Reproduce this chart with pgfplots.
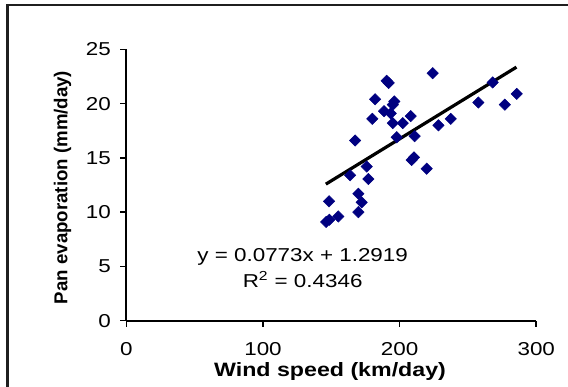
\documentclass[border=0pt]{standalone}
\usepackage{pgfplots}
\pgfplotsset{compat=1.18}
\usepackage{fontspec}
\setmainfont{Liberation Sans}
\definecolor{navy}{RGB}{0,0,128}
\pgfplotstableread{
x y
224.2 22.8
190.5 22.1
192.0 21.9
182.0 20.4
196.1 20.2
195.0 19.9
188.6 19.3
193.5 19.1
180.0 18.6
195.0 18.2
202.3 18.2
208.1 18.85
197.9 16.9
211.0 17.0
167.4 16.6
228.4 18.0
237.4 18.6
257.6 20.1
268.1 21.95
277.0 19.9
285.7 20.9
208.8 14.8
210.5 15.05
219.8 14.0
175.9 14.2
163.7 13.4
177.1 13.05
169.8 11.7
172.2 10.9
169.8 10.0
148.3 11.0
155.1 9.6
146.2 9.1
148.6 9.3
}\datatable
\begin{document}
\begin{tikzpicture}[x=1pt,y=1pt]
\useasboundingbox (0,0) rectangle (426,289.5);
\draw[line width=2.2pt, black!88] (5.5,-20) -- (5.5,285.75) -- (440,285.75);
\begin{axis}[
  at={(94.8pt,49pt)}, anchor=south west,
  scale only axis, width=307.4pt, height=203.5pt,
  xmin=0, xmax=300, ymin=0, ymax=25,
  axis x line*=bottom, axis y line*=left,
  axis line style={-, line width=1.4pt, black},
  xtick={0,100,200,300}, ytick={0,5,10,15,20,25},
  tick align=outside, major tick length=4.5pt,
  tick style={line width=1.2pt, black},
  /pgf/number format/assume math mode=true,
  ticklabel style={font=\fontsize{14}{16}\selectfont},
  xticklabel style={xscale=1.2, yshift=-8pt},
  yticklabel style={xscale=1.2, xshift=-2.5pt},
  clip=false,
]
\addplot[only marks, mark=square*, mark size=3pt, mark options={rotate=45, fill=navy, draw=navy}] table[x=x,y=y] {\datatable};
\addplot[line width=2.4pt, black] coordinates {(146,12.58) (285.5,23.36)};
\node[align=center, font=\fontsize{14}{19.5}\selectfont, xscale=1.2] at (axis cs:129,4.85) {y = 0.0773x + 1.2919\\R\textsuperscript{2} = 0.4346};
\end{axis}
\node[font=\bfseries\fontsize{14.5}{16}\selectfont, xscale=1.2] at (247.5,10.5) {Wind speed (km/day)};
\node[font=\bfseries\fontsize{14}{16}\selectfont, rotate=90] at (46.9,148.9) {Pan evaporation (mm/day)};
\end{tikzpicture}
\end{document}
